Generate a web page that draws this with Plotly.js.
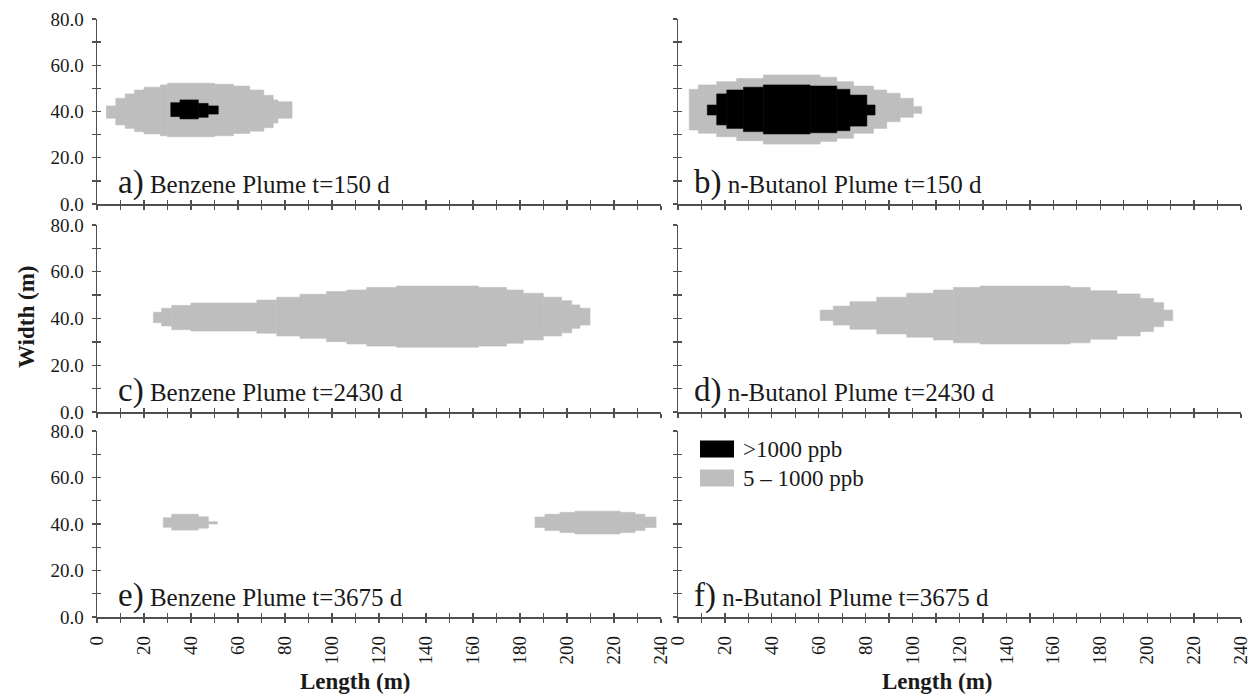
<!DOCTYPE html>
<html><head><meta charset="utf-8">
<script src="https://cdn.plot.ly/plotly-3.0.1.min.js"></script>
<style>html,body{margin:0;padding:0;background:#fff}#chart{width:1257px;height:698px}</style>
</head><body><div id="chart"></div>
<script>
// ---------- data ----------
// Tick values / labels
const xTickValues = [0,10,20,30,40,50,60,70,80,90,100,110,120,130,140,150,160,170,180,190,200,210,220,230,240];
const xTickLabels = ['0','','20','','40','','60','','80','','100','','120','','140','','160','','180','','200','','220','','240'];
const yTickValues = [0,10,20,30,40,50,60,70,80];
const yTickLabels = ['0.0','','20.0','','40.0','','60.0','','80.0'];

// Panel a) Benzene t=150 d : column edges (m), low / high width (m)
const aGrayEdges = [4, 8, 12, 16, 20, 27, 30, 50, 58, 65, 71, 75, 77, 83];
const aGrayLow   = [37.1, 34.2, 32.7, 31.3, 30.3, 29.5, 29.1, 29.5, 30.5, 31.5, 33.0, 35.0, 37.1];
const aGrayHigh  = [42.4, 45.7, 47.6, 49.3, 50.5, 51.5, 52.2, 51.8, 51.0, 49.3, 47.0, 45.0, 44.2];
const aBlackEdges = [31.4, 35.3, 43.1, 47.3, 51.6];
const aBlackLow   = [37.8, 36.8, 37.5, 38.9];
const aBlackHigh  = [43.8, 45.0, 43.5, 42.4];

// Panel b) n-Butanol t=150 d
const bGrayEdges = [4.8, 8.7, 16.5, 25.0, 36.4, 60.6, 67.7, 74.8, 83.3, 89.0, 94.7, 100.3, 103.9];
const bGrayLow   = [32.0, 30.6, 29.1, 27.4, 25.9, 27.0, 28.4, 30.6, 32.7, 35.6, 37.5, 39.2];
const bGrayHigh  = [49.6, 51.5, 52.9, 54.3, 55.8, 54.8, 52.9, 51.0, 49.3, 47.9, 45.7, 42.1];
const bBlackEdges = [12.5, 16.5, 20.8, 27.9, 36.4, 56.3, 67.7, 73.3, 80.5, 84.0];
const bBlackLow   = [38.5, 34.2, 32.7, 31.3, 30.3, 30.8, 31.7, 33.7, 38.5];
const bBlackHigh  = [42.8, 47.6, 49.3, 50.5, 51.5, 51.0, 49.6, 47.1, 42.8];

// Panel c) Benzene t=2430 d
const cGrayEdges = [24.0, 27.5, 31.8, 40.0, 68.0, 76.5, 86.4, 97.7, 106.3, 114.8, 127.5, 162.3, 174.3, 181.4, 189.9, 197.7, 202.0, 205.5, 209.8];
const cGrayLow   = [38.2, 36.8, 35.2, 34.6, 33.7, 32.5, 31.5, 30.1, 29.1, 28.2, 27.7, 28.2, 29.4, 30.8, 32.5, 33.9, 35.8, 37.2];
const cGrayHigh  = [42.7, 44.4, 45.6, 46.6, 47.9, 49.1, 50.4, 51.5, 52.2, 53.3, 53.9, 53.3, 52.2, 50.8, 49.1, 47.6, 45.8, 44.4];

// Panel d) n-Butanol t=2430 d
const dGrayEdges = [60.6, 66.2, 73.3, 84.7, 97.5, 108.9, 117.4, 128.8, 167.2, 175.7, 187.1, 197.0, 202.7, 207.0, 210.9];
const dGrayLow   = [39.1, 37.2, 35.4, 33.4, 32.0, 30.8, 29.6, 29.1, 29.6, 31.1, 32.5, 34.4, 36.5, 39.1];
const dGrayHigh  = [43.6, 45.3, 47.2, 49.1, 50.8, 52.2, 53.3, 53.9, 53.3, 51.9, 50.5, 48.6, 46.8, 43.6];

// Panel e) Benzene t=3675 d (two separate gray patches)
const e1GrayEdges = [28.2, 31.8, 43.1, 47.4, 51.2];
const e1GrayLow   = [38.6, 37.4, 38.2, 40.0];
const e1GrayHigh  = [42.7, 44.2, 43.1, 41.0];
const e2GrayEdges = [186.4, 190.6, 197.0, 203.4, 222.6, 229.0, 233.2, 237.9];
const e2GrayLow   = [38.5, 37.2, 36.3, 35.7, 36.3, 37.2, 38.5];
const e2GrayHigh  = [43.0, 44.2, 45.0, 45.5, 45.0, 44.2, 43.0];

const panelLetters = ['a)', 'b)', 'c)', 'd)', 'e)', 'f)'];
const panelTitles = ['Benzene Plume t=150 d', 'n-Butanol Plume t=150 d',
                     'Benzene Plume t=2430 d', 'n-Butanol Plume t=2430 d',
                     'Benzene Plume t=3675 d', 'n-Butanol Plume t=3675 d'];
const legendLabels = ['>1000 ppb', '5 \u2013 1000 ppb'];

// ---------- styling / layout ----------
const W = 1257, H = 698;
const FONT = 'Liberation Serif, Times New Roman, serif';
const GRAY = '#bebebe', BLACK = '#000000', AXIS = '#505050', TXT = '#1a1a1a';

function px2fx(p){ return p / W; }
function px2fy(p){ return 1 - p / H; }

const colDom = [[px2fx(97), px2fx(661)], [px2fx(678), px2fx(1241)]];
const rowDom = [[px2fy(204), px2fy(19)], [px2fy(412), px2fy(225)], [px2fy(617), px2fy(431)]];

function plumeTrace(edges, lo, hi, color, n){
  const x = [], w = [], y = [];
  for (let i = 0; i < lo.length; i++) {
    x.push((edges[i] + edges[i+1]) / 2);
    w.push(edges[i+1] - edges[i]);
    y.push(hi[i] - lo[i]);
  }
  const s = n === 1 ? '' : String(n);
  return {type:'bar', x:x, y:y, base:lo, width:w, xaxis:'x'+s, yaxis:'y'+s,
          marker:{color:color, line:{color:color, width:0.6}},
          showlegend:false, hoverinfo:'skip'};
}

const traces = [
  plumeTrace(aGrayEdges, aGrayLow, aGrayHigh, GRAY, 1),
  plumeTrace(aBlackEdges, aBlackLow, aBlackHigh, BLACK, 1),
  plumeTrace(bGrayEdges, bGrayLow, bGrayHigh, GRAY, 2),
  plumeTrace(bBlackEdges, bBlackLow, bBlackHigh, BLACK, 2),
  plumeTrace(cGrayEdges, cGrayLow, cGrayHigh, GRAY, 3),
  plumeTrace(dGrayEdges, dGrayLow, dGrayHigh, GRAY, 4),
  plumeTrace(e1GrayEdges, e1GrayLow, e1GrayHigh, GRAY, 5),
  plumeTrace(e2GrayEdges, e2GrayLow, e2GrayHigh, GRAY, 5),
  {type:'scatter', x:[], y:[], xaxis:'x6', yaxis:'y6', showlegend:false, hoverinfo:'skip'}
];

const layout = {
  width: W, height: H,
  margin: {l:0, r:0, t:0, b:0},
  paper_bgcolor: '#ffffff', plot_bgcolor: 'rgba(0,0,0,0)',
  barmode: 'overlay', bargap: 0,
  showlegend: false,
  font: {family: FONT, color: TXT},
  annotations: [], shapes: []
};

for (let n = 1; n <= 6; n++) {
  const col = (n - 1) % 2, row = Math.floor((n - 1) / 2);
  const s = n === 1 ? '' : String(n);
  const showX = row === 2, showY = col === 0;
  const base = {showline:true, linecolor:AXIS, linewidth:1.5, showgrid:false, zeroline:false,
                ticks:'outside', ticklen:4, tickwidth:1.3, tickcolor:AXIS, fixedrange:true,
                tickfont:{family:FONT, size:19, color:TXT}};
  layout['xaxis'+s] = Object.assign({}, base, {
    domain: colDom[col], anchor: 'y'+s, range:[0,240],
    tickmode:'array', tickvals:xTickValues, ticktext:xTickLabels,
    showticklabels: showX, tickangle:-90, ticklabelstandoff: 6
  });
  layout['yaxis'+s] = Object.assign({}, base, {
    domain: rowDom[row], anchor: 'x'+s, range:[0,80],
    tickmode:'array', tickvals:yTickValues, ticktext:yTickLabels,
    showticklabels: showY, ticklabelstandoff: 4
  });
  // overlay axes giving the inside half of the crossing ticks
  const ox = 'xaxis' + (n + 6), oy = 'yaxis' + (n + 6);
  layout[ox] = {overlaying:'x'+s, anchor:'y'+s, range:[0,240], tickmode:'array', tickvals:xTickValues,
                ticks:'inside', ticklen:4, tickwidth:1.3, tickcolor:AXIS, showticklabels:false,
                showline:false, showgrid:false, zeroline:false, fixedrange:true};
  layout[oy] = {overlaying:'y'+s, anchor:'x'+s, range:[0,80], tickmode:'array', tickvals:yTickValues,
                ticks:'inside', ticklen:4, tickwidth:1.3, tickcolor:AXIS, showticklabels:false,
                showline:false, showgrid:false, zeroline:false, fixedrange:true};
  traces.push({type:'scatter', x:[], y:[], xaxis:'x'+(n+6), yaxis:'y'+(n+6), showlegend:false, hoverinfo:'skip'});

  // panel label
  layout.annotations.push({
    xref:'x'+s+' domain', yref:'y'+s+' domain',
    x: col === 0 ? 0.034 : 0.025, y: 0.115, xanchor:'left', yanchor:'middle', showarrow:false,
    text:'<span style="font-size:33px">' + panelLetters[n-1] + '</span> ' + panelTitles[n-1],
    font:{family:FONT, size:25, color:TXT}
  });
}

// axis titles
layout.annotations.push({xref:'paper', yref:'paper', x:px2fx(26), y:px2fy(317), textangle:-90,
  text:'<b>Width (m)</b>', showarrow:false, xanchor:'center', yanchor:'middle',
  font:{family:FONT, size:23, color:TXT}});
layout.annotations.push({xref:'paper', yref:'paper', x:px2fx(355), y:px2fy(681),
  text:'<b>Length (m)</b>', showarrow:false, xanchor:'center', yanchor:'middle',
  font:{family:FONT, size:23, color:TXT}});
layout.annotations.push({xref:'paper', yref:'paper', x:px2fx(938), y:px2fy(681),
  text:'<b>Length (m)</b>', showarrow:false, xanchor:'center', yanchor:'middle',
  font:{family:FONT, size:23, color:TXT}});

// legend (inside panel f)
const legendColors = [BLACK, GRAY];
const legendRows = [449, 478];
for (let i = 0; i < 2; i++) {
  layout.shapes.push({type:'rect', xref:'paper', yref:'paper',
    x0:px2fx(700), x1:px2fx(734), y0:px2fy(legendRows[i]+8.5), y1:px2fy(legendRows[i]-8.5),
    fillcolor:legendColors[i], line:{width:0}});
  layout.annotations.push({xref:'paper', yref:'paper', x:px2fx(741), y:px2fy(legendRows[i]),
    xanchor:'left', yanchor:'middle', showarrow:false, text:legendLabels[i],
    font:{family:FONT, size:23, color:TXT}});
}

Plotly.newPlot('chart', traces, layout, {displayModeBar:false, staticPlot:true});
</script>
</body></html>
